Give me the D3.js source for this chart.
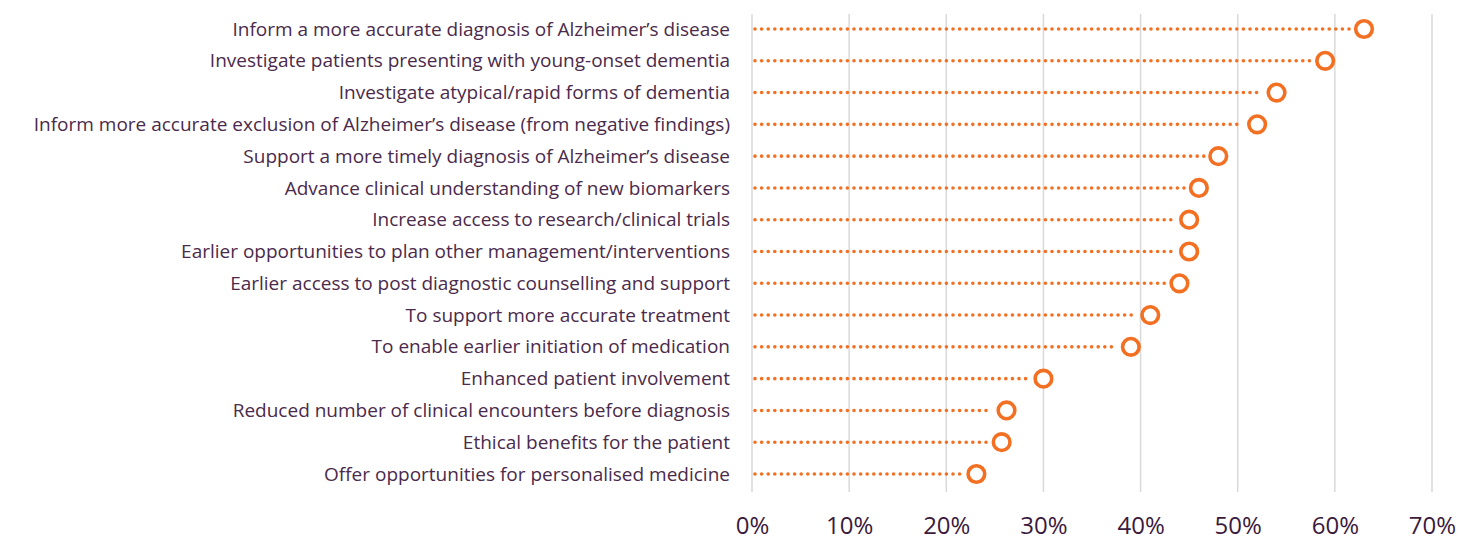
<!DOCTYPE html>
<html>
<head>
<meta charset="utf-8">
<script src="https://cdn.jsdelivr.net/npm/d3@7"></script>
<style>
  body { margin: 0; background: #fff; }
  svg { display: block; }
</style>
</head>
<body>
<div id="chart"></div>
<script>
// answers, top to bottom
var reasons = [
  "Inform a more accurate diagnosis of Alzheimer\u2019s disease",
  "Investigate patients presenting with young-onset dementia",
  "Investigate atypical/rapid forms of dementia",
  "Inform more accurate exclusion of Alzheimer\u2019s disease (from negative findings)",
  "Support a more timely diagnosis of Alzheimer\u2019s disease",
  "Advance clinical understanding of new biomarkers",
  "Increase access to research/clinical trials",
  "Earlier opportunities to plan other management/interventions",
  "Earlier access to post diagnostic counselling and support",
  "To support more accurate treatment",
  "To enable earlier initiation of medication",
  "Enhanced patient involvement",
  "Reduced number of clinical encounters before diagnosis",
  "Ethical benefits for the patient",
  "Offer opportunities for personalised medicine"
]
var percent = [63, 59, 54, 52, 48, 46, 45, 45, 44, 41, 39, 30, 26.2, 25.7, 23.1]
var ticks = [0, 10, 20, 30, 40, 50, 60, 70]

var svgWidth = 1461
var svgHeight = 540

var margin = { top: 14, right: 28, bottom: 48, left: 752 }
var chartWidth = svgWidth - margin.left - margin.right
var chartHeight = svgHeight - margin.top - margin.bottom

var orange = "#f36f21"
var purple = "#4b2a4b"

var svg = d3.select("#chart").append("svg")
  .attr("width", svgWidth)
  .attr("height", svgHeight)

var chartGroup = svg.append("g")
  .attr("transform", `translate(${margin.left},${margin.top})`)

var x = d3.scaleLinear().domain([0, 70]).range([0, 680])
var y = d3.scalePoint().domain(reasons).range([15, 460])

// gridlines
chartGroup.selectAll(".grid")
  .data(ticks)
  .enter().append("line")
  .attr("x1", d => x(d)).attr("x2", d => x(d))
  .attr("y1", 0).attr("y2", chartHeight)
  .attr("stroke", "#d9d9d9")
  .attr("stroke-width", 1.5)

// bottom axis, labels only
var bottomAxis = d3.axisBottom(x).tickValues(ticks).tickFormat(d => d + "%").tickSize(0).tickPadding(25)
var ax = chartGroup.append("g")
  .attr("transform", `translate(0,${chartHeight})`)
  .call(bottomAxis)
ax.select(".domain").remove()
ax.selectAll("text")
  .attr("fill", "#3b1a3d")
  .style("font-family", "'Open Sans', sans-serif")
  .style("font-size", "24px")

// category labels
var leftAxis = d3.axisLeft(y).tickSize(0).tickPadding(22)
var ay = chartGroup.append("g").call(leftAxis)
ay.select(".domain").remove()
ay.selectAll("text")
  .attr("fill", purple)
  .style("font-family", "'Open Sans', sans-serif")
  .style("font-size", "19px")

// dotted leaders
chartGroup.selectAll(".lead")
  .data(percent)
  .enter().append("line")
  .attr("x1", x(0) + 3)
  .attr("x2", d => x(d) - 14)
  .attr("y1", (d, i) => y(reasons[i]))
  .attr("y2", (d, i) => y(reasons[i]))
  .attr("stroke", orange)
  .attr("stroke-width", 3.6)
  .attr("stroke-linecap", "round")
  .attr("stroke-dasharray", "0 6.6")

// end markers
chartGroup.selectAll(".dot")
  .data(percent)
  .enter().append("circle")
  .attr("cx", d => x(d))
  .attr("cy", (d, i) => y(reasons[i]))
  .attr("r", 8.3)
  .attr("fill", "#fff")
  .attr("stroke", orange)
  .attr("stroke-width", 3.6)
</script>
</body>
</html>
